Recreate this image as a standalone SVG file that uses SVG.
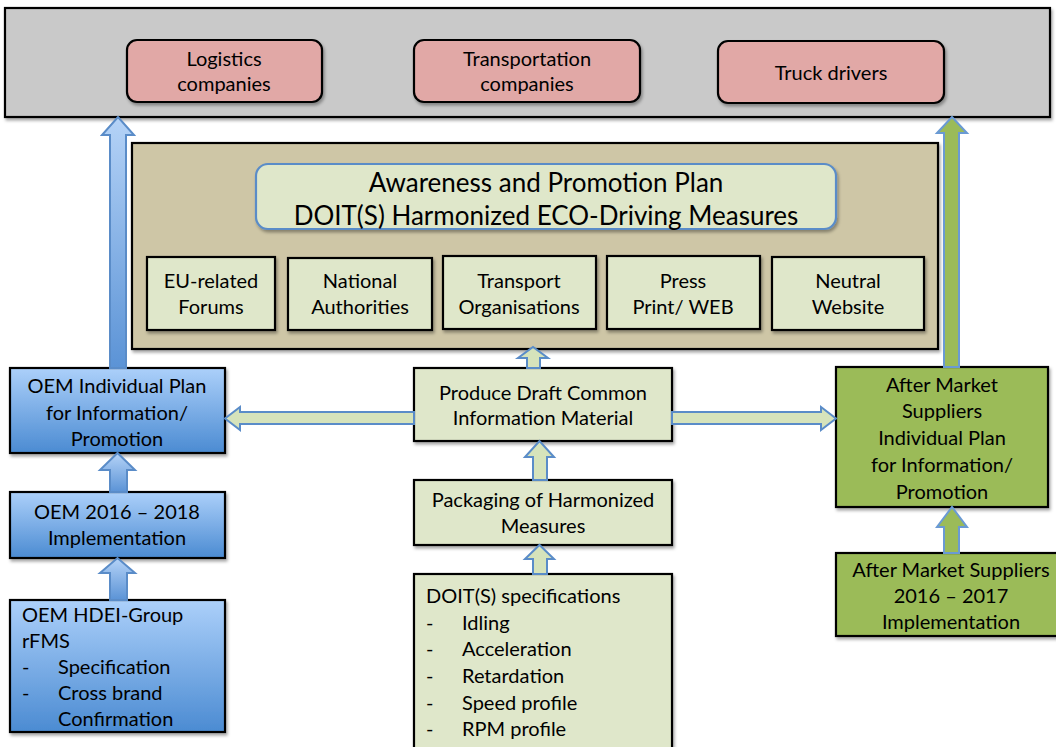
<svg xmlns="http://www.w3.org/2000/svg" width="1056" height="747" viewBox="0 0 1056 747">
<defs>
<linearGradient id="gBlue" x1="0" y1="0" x2="0" y2="1"><stop offset="0" stop-color="#acd0fa"/><stop offset="1" stop-color="#4b8bd2"/></linearGradient>
<linearGradient id="gArrow" x1="0" y1="0" x2="0" y2="1"><stop offset="0" stop-color="#b5d3f7"/><stop offset="1" stop-color="#5b93d6"/></linearGradient>
<filter id="sh" x="-5%" y="-5%" width="110%" height="115%"><feDropShadow dx="1.5" dy="2.5" stdDeviation="1.5" flood-color="#000" flood-opacity="0.35"/></filter>
</defs>
<style>
text{font-family:Lato,"Liberation Sans",sans-serif;fill:#000;font-size:20px}
.c{text-anchor:middle}
.box{stroke:#000;stroke-width:2.2}
.pink{fill:#e1a8a6}
.lg{fill:#dfe7ca}
.ol{fill:#9bbb59}
.bl{fill:url(#gBlue)}
.ab{fill:url(#gArrow);stroke:#5a8cc8;stroke-width:2}
.ag{fill:#d6e3bb;stroke:#5a8cc8;stroke-width:2}
.agg{fill:#9bbb59;stroke:#6a9ad4;stroke-width:2}
</style>
<rect width="1056" height="747" fill="#fff"/>
<g id="target">
<rect class="box" x="5" y="8" width="1045" height="109" fill="#c9c9c9" filter="url(#sh)"/>
</g>
<g id="logistics"><rect class="box pink" x="127" y="40" width="195" height="62" rx="10" filter="url(#sh)"/><text class="c" x="224" y="66">Logistics</text><text class="c" x="224" y="91">companies</text></g>
<g id="transportation"><rect class="box pink" x="414" y="40" width="226" height="62" rx="10" filter="url(#sh)"/><text class="c" x="527" y="66">Transportation</text><text class="c" x="527" y="91">companies</text></g>
<g id="truck"><rect class="box pink" x="718" y="41" width="226" height="62" rx="10" filter="url(#sh)"/><text class="c" x="831" y="80">Truck drivers</text></g>
<g id="plan">
<rect class="box" x="132" y="143" width="806" height="206" fill="#cec6a6" filter="url(#sh)"/>
</g>
<g id="awareness"><rect x="256" y="164" width="580" height="65" rx="12" fill="#dfe7ca" stroke="#5a8cc8" stroke-width="2.2" filter="url(#sh)"/><text class="c" x="546" y="192" style="font-size:26px">Awareness and Promotion Plan</text><text class="c" x="546" y="225" style="font-size:26px">DOIT(S) Harmonized ECO-Driving Measures</text></g>
<g id="eu"><rect class="box lg" x="147" y="257" width="128" height="73" filter="url(#sh)"/><text class="c" x="211" y="288">EU-related</text><text class="c" x="211" y="314">Forums</text></g>
<g id="national"><rect class="box lg" x="288" y="258" width="144" height="72" filter="url(#sh)"/><text class="c" x="360" y="288">National</text><text class="c" x="360" y="314">Authorities</text></g>
<g id="transport"><rect class="box lg" x="443" y="256" width="153" height="73" filter="url(#sh)"/><text class="c" x="519" y="288">Transport</text><text class="c" x="519" y="314">Organisations</text></g>
<g id="press"><rect class="box lg" x="607" y="256" width="153" height="73" filter="url(#sh)"/><text class="c" x="683" y="288">Press</text><text class="c" x="683" y="314">Print/ WEB</text></g>
<g id="neutral"><rect class="box lg" x="772" y="257" width="152" height="73" filter="url(#sh)"/><text class="c" x="848" y="288">Neutral</text><text class="c" x="848" y="314">Website</text></g>
<g id="oemplan"><rect class="box bl" x="10" y="368" width="215" height="85" filter="url(#sh)"/><text class="c" x="117" y="393">OEM Individual Plan</text><text class="c" x="117" y="420">for Information/</text><text class="c" x="117" y="446">Promotion</text></g>
<g id="oemimpl"><rect class="box bl" x="10" y="492" width="215" height="66" filter="url(#sh)"/><text class="c" x="117" y="519">OEM 2016 – 2018</text><text class="c" x="117" y="545">Implementation</text></g>
<g id="oemhdei"><rect class="box bl" x="10" y="600" width="215" height="132" filter="url(#sh)"/><text x="22" y="622">OEM HDEI-Group</text><text x="22" y="648">rFMS</text><text x="22" y="674">-</text><text x="58" y="674">Specification</text><text x="22" y="700">-</text><text x="58" y="700">Cross brand</text><text x="58" y="726">Confirmation</text></g>
<g id="produce"><rect class="box lg" x="414" y="368" width="258" height="73" filter="url(#sh)"/><text class="c" x="543" y="400">Produce Draft Common</text><text class="c" x="543" y="425">Information Material</text></g>
<g id="packaging"><rect class="box lg" x="414" y="480" width="258" height="65" filter="url(#sh)"/><text class="c" x="543" y="507">Packaging of Harmonized</text><text class="c" x="543" y="533">Measures</text></g>
<g id="doit"><rect class="box lg" x="414" y="574" width="258" height="180" filter="url(#sh)"/><text x="426" y="603">DOIT(S) specifications</text><text x="426" y="630">-</text><text x="462" y="630">Idling</text><text x="426" y="656">-</text><text x="462" y="656">Acceleration</text><text x="426" y="683">-</text><text x="462" y="683">Retardation</text><text x="426" y="710">-</text><text x="462" y="710">Speed profile</text><text x="426" y="736">-</text><text x="462" y="736">RPM profile</text></g>
<g id="amplan"><rect class="box ol" x="836" y="367" width="212" height="140" filter="url(#sh)"/><text class="c" x="942" y="392">After Market</text><text class="c" x="942" y="418">Suppliers</text><text class="c" x="942" y="445">Individual Plan</text><text class="c" x="942" y="472">for Information/</text><text class="c" x="942" y="499">Promotion</text></g>
<g id="amimpl"><rect class="box ol" x="836" y="553" width="222" height="83" filter="url(#sh)"/><text class="c" x="951" y="577">After Market Suppliers</text><text class="c" x="951" y="603">2016 – 2017</text><text class="c" x="951" y="629">Implementation</text></g>
<g id="connectors">
<polygon class="ab" points="110,368 110,135 102,135 118,117 134,135 126,135 126,368"/>
<polygon class="agg" points="944,367 944,133 937,133 952,117 967,133 959,133 959,367"/>
<polygon class="ab" points="110,492 110,470 100,470 117.5,453 135,470 127,470 127,492"/>
<polygon class="ab" points="110,600 110,573 100,573 117.5,558 135,573 127,573 127,600"/>
<polygon class="ag" points="527,368 527,358 518,358 533,347 548,358 540,358 540,368"/>
<polygon class="ag" points="533,480 533,457 525,457 539.5,441 554,457 547,457 547,480"/>
<polygon class="ag" points="533,574 533,559 525,559 539.5,545 554,559 547,559 547,574"/>
<polygon class="ag" points="414,412 240,412 240,407 225,418.5 240,430 240,424 414,424"/>
<polygon class="ag" points="672,412 821,412 821,407 836,418.5 821,430 821,424 672,424"/>
<polygon class="agg" points="944,553 944,527 937,527 952,507 967,527 959,527 959,553"/>
</g>
</svg>
